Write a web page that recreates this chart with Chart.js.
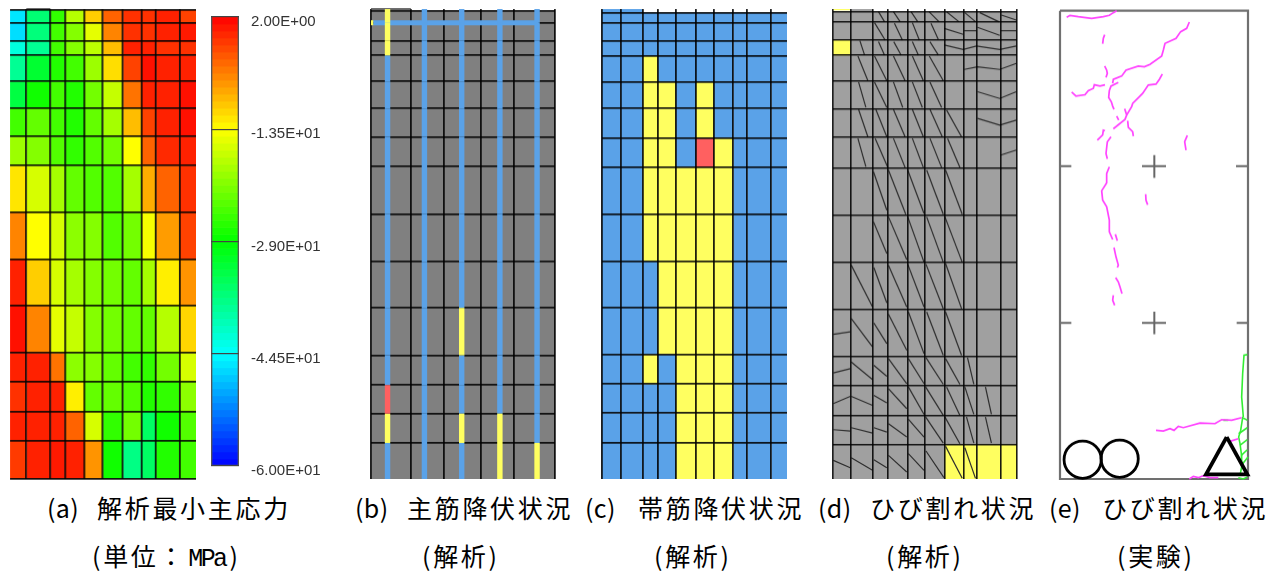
<!DOCTYPE html>
<html lang="ja">
<head>
<meta charset="utf-8">
<title>解析と実験の比較</title>
<script src="https://cdn.jsdelivr.net/npm/chart.js@4/dist/chart.umd.js"></script>
<style>
html,body{margin:0;padding:0;background:#fff;width:1278px;height:571px;overflow:hidden}
canvas{position:absolute;display:block}
.cap{position:absolute;white-space:nowrap;font-family:"Noto Sans CJK JP","Noto Sans",sans-serif;font-size:25px;line-height:30px;letter-spacing:2.7px;color:#000}
.tag{display:inline-block;letter-spacing:0.4px}
.lat{font-family:"Liberation Mono",monospace;letter-spacing:-2.6px;margin-left:2px;margin-right:4px}
</style>
</head>
<body>
<script>
/* ---------- (a) minimum principal stress, MPa ---------- */
const stressXEdges = [0,16.3,40.3,54.7,74.3,92.7,112.7,131.3,145.7,169.3,185.7];
const stressYEdges = [0,12.7,31,45.3,71.3,97.7,126.3,155.3,202.3,249.3,295.3,342.7,371.3,401.3,430.3,468.3];
const minPrincipalStress = [
 [-46,-36,-26,-18,-10.5,-4,-1,-1,0,-2],
 [-46.5,-36.5,-25,-21,-15,-6,-1,-1,0,0.5],
 [-42.5,-38,-25,-21,-17.5,-9.5,0,0,-1,-1],
 [-38,-32,-27,-25,-19.5,-11.5,-2,1,0,0],
 [-33,-28,-25,-27,-22,-17,-5,0,0,1],
 [-25,-23,-25,-27,-23,-19,-9.5,-2,0,1],
 [-19.5,-21,-24,-26,-24,-22,-13.5,-4,-0.5,0],
 [-12,-16,-19,-23,-24,-24,-19,-8.5,-4,-1],
 [-6,-13.5,-16,-20.5,-21,-24,-22,-14,-7.5,-2],
 [0,-10.5,-16,-19,-21,-22,-23,-19,-12.5,-7],
 [1,-6,-15,-17,-21,-22,-23,-23,-18,-11],
 [0,0,-5,-20.5,-21,-23,-25,-26,-22,-16],
 [-1,0,0,-12.5,-23,-23,-24,-27,-26,-20.5],
 [0,0,0,-4,-16,-26,-22,-35,-28,-24],
 [-1.5,0,0.5,0,-7,-28,-37,-35,-27,-25]
];
const colorbarTicks = [2,-13.5,-29,-44.5,-60];
const colorbarLabels = ['2.00E+00','-1.35E+01','-2.90E+01','-4.45E+01','-6.00E+01'];

/* ---------- (b) main-bar yielding ---------- */
const barXEdges = [0,40,73,110.3,143.3,184.6];
const barYEdges = [1,12.7,30.7,45.3,71.3,98.3,126.7,156.3,204,251.7,297.7,345,374.7,403.3,432.7,468.7];
const mainBarX = [16.6,53.6,91,129.3,166.6];
/* per bar, per mesh row: 0 elastic, 1 yielded, 2 failed */
const mainBarStates = [
 [1,1,1,0,0,0,0,0,0,0,0,0,2,1,0],
 [0,0,0,0,0,0,0,0,0,0,0,0,0,0,0],
 [0,0,0,0,0,0,0,0,0,0,1,0,0,1,0],
 [0,0,0,0,0,0,0,0,0,0,0,0,0,1,1],
 [0,0,0,0,0,0,0,0,0,0,0,0,0,0,1]
];
const topBarY = 12.7;
const topBarBreaks = [0,2.2,168];
const topBarStates = [1,0];

/* ---------- (c) stirrup yielding ---------- */
const hoopXEdges = [0,18.6,40.6,56,74,94,112,131.3,145.3,169.3,185];
const hoopYEdges = [2.7,13.3,30.7,46,71.7,98.3,128,157.3,204,251,297.3,344,373.7,403,432.7,468.7];
const hoopStates = [
 [0,0,0,0,0,0,0,0,0,0],
 [0,0,0,0,0,0,0,0,0,0],
 [0,0,0,0,0,0,0,0,0,0],
 [0,0,1,0,0,0,0,0,0,0],
 [0,0,1,1,0,1,0,0,0,0],
 [0,0,1,1,0,1,0,0,0,0],
 [0,0,1,1,0,2,1,0,0,0],
 [0,0,1,1,1,1,1,0,0,0],
 [0,0,1,1,1,1,1,0,0,0],
 [0,0,0,1,1,1,1,0,0,0],
 [0,0,0,1,1,1,1,0,0,0],
 [0,0,1,0,1,1,1,0,0,0],
 [0,0,0,0,1,1,1,0,0,0],
 [0,0,0,0,1,1,1,0,0,0],
 [0,0,0,0,1,1,1,0,0,0]
];

/* ---------- (d) analysed cracks, in mesh drawing units ---------- */
const crackXEdges = [23,77,143,188,247,299,359,417,457,527,577];
const crackYEdges = [35,65,120,166,244,326,412,504,645,786,927,1068,1156,1246,1333,1436];
const crackYellowCells = [[2,0],[14,6],[14,7],[14,8],[14,9]];
const analysedCracks = [
 [160,35,178,65],[205,35,225,65],[258,35,278,65],[312,35,342,65],[365,35,402,65],[420,38,452,65],[465,38,522,65],[530,45,575,60],
 [148,68,180,120],[208,70,232,120],[262,68,283,120],[318,70,340,118],[358,85,415,103],[418,92,455,92],[458,82,525,106],[528,92,575,92],
 [104,122,118,165],[160,125,178,165],[206,125,228,165],[262,125,280,165],[315,125,340,165],[358,135,415,148,455,138,525,148,575,138],
 [98,168,128,242],[148,168,185,242],[205,168,240,242],[262,168,295,242],[313,168,355,242],[418,208,458,200,525,208,575,190],
 [100,246,122,322],[148,246,185,322],[205,246,233,322],[262,246,292,322],[315,246,350,322],[458,275,525,295,575,275],
 [100,328,128,410],[152,328,185,410],[205,328,240,410],[262,328,295,410],[315,328,352,410],[365,330,410,410],[458,355,525,375,575,360],
 [98,415,122,500],[150,415,188,502],[205,415,240,502],[262,415,295,502],[315,415,350,502],[368,415,405,502],[528,465,575,450],
 [145,515,185,630],[190,510,242,642],[248,510,297,640],[305,510,355,642],[362,510,412,642],
 [145,665,185,760],[190,650,245,778],[248,650,297,786],[305,650,355,786],[360,650,412,786],
 [78,795,142,920],[146,802,185,908],[190,795,245,920],[248,792,297,920],[303,792,355,925],[362,790,410,925],
 [24,1002,75,995],[78,955,142,1040],[146,968,185,1030],[190,942,245,1050],[250,935,297,1060],[305,935,355,1065],[362,935,410,1065],
 [24,1118,75,1105],[78,1085,142,1138],[146,1095,185,1128],[190,1075,245,1150],[250,1075,297,1150],[303,1072,355,1152],[362,1075,405,1152],[428,1072,447,1152],
 [24,1210,75,1188],[78,1188,142,1215],[146,1185,185,1208],[190,1165,245,1225],[250,1160,297,1242],[302,1160,355,1245],[365,1160,405,1245],[420,1160,447,1242],[482,1160,500,1242],
 [24,1288,75,1292],[78,1282,142,1298],[146,1282,185,1295],[190,1270,245,1310],[250,1257,297,1310],[302,1250,355,1328],[360,1250,405,1330],[425,1250,447,1328],[482,1250,500,1328],
 [24,1380,75,1402],[78,1372,142,1410],[146,1378,185,1402],[190,1365,245,1415],[250,1360,297,1410],[303,1352,357,1432],[362,1338,412,1434],[420,1342,452,1434]
];

/* ---------- (e) test observation, in sketch drawing units ---------- */
const sketchFrame = [30,32,594,32,594,1436,30,1436,30,32];
const sketchMarks = [
 [30,498,64,498],[558,498,594,498],[276,498,348,498],[313,465,313,533],
 [30,968,64,968],[560,968,594,968],[276,968,348,968],[313,934,313,1002]
];
const observedCracks = [
 [50,52,60,46,85,50,125,55,160,50,178,46,190,38,200,32],
 [158,131,160,115,164,104],
 [418,66,410,85,392,95,378,115,345,130,340,150,335,168,300,193,283,200,265,198,228,210,215,228,190,238,188,250],
 [164,198,170,210,172,220,168,232],
 [65,276,78,288,105,284,115,272,130,265,133,254,150,258,165,254],
 [205,247,183,258,178,272,176,292,184,305,188,318,192,328],
 [337,222,328,238,318,252,295,255,278,280,248,310,245,320,230,345,225,358,190,386],
 [224,326,230,345],[200,348,206,360],
 [233,362,235,382,248,395,250,408],
 [142,420,158,404,160,390,165,392],
 [183,410,172,425,168,460,172,476],
 [178,500,170,520,170,548,155,572,158,600,170,620,178,660,178,695,188,718],
 [196,702,202,722],
 [412,406,404,425,408,450],
 [287,582,288,600,293,614],
 [192,742,198,770,205,795,202,802],
 [197,832,205,845,210,860,216,880],
 [190,885,188,900,194,915],
 [318,1290,340,1292,360,1285,372,1290,385,1278,400,1282,450,1268,495,1270,515,1258,545,1260,575,1252],
 [540,1323,565,1315],
 [418,1436,430,1428,445,1432,460,1426,480,1432,505,1432]
];
const observedShearCracks = [
 [592,1063,582,1065,578,1120,575,1190,580,1250],
 [592,1260,578,1252,572,1290,566,1310,570,1330,574,1360,575,1400,570,1425],
 [566,1300,592,1282],[570,1335,592,1318],[574,1365,592,1348],[578,1390,594,1370],
 [520,1260,535,1260],[565,1432,580,1436,592,1430]
];
const loadingCircles = [[98,1378],[209,1375]];
const loadingTriangle = [530,1310,468,1422,592,1422,530,1310];

const captionsLine1 = [
 {tag:'(a)',x:47,text:'解析最小主応力',tx:97},
 {tag:'(b)',x:355,text:'主筋降伏状況',tx:407},
 {tag:'(c)',x:585,text:'帯筋降伏状況',tx:638},
 {tag:'(d)',x:818,text:'ひび割れ状況',tx:870},
 {tag:'(e)',x:1049,text:'ひび割れ状況',tx:1102}
];
const captionsLine2 = [
 {x:92,parts:['(単位：','MPa',')']},
 {x:422,parts:['(解析)']},
 {x:654,parts:['(解析)']},
 {x:886,parts:['(解析)']},
 {x:1117,parts:['(実験)']}
];

/* ---------- styling ---------- */
const COL_ELASTIC='#5aa2e8', COL_YIELD='#ffff60', COL_FAIL='#ff6060', COL_GRID='rgba(0,0,0,0.88)';
const STATE_COLORS=[COL_ELASTIC,COL_YIELD,COL_FAIL];
const PAD=4;

function rampColor(t){ /* t: 0 red .. 1 yellow .. 2 green .. 3 cyan .. 4 blue */
  const c=v=>Math.round(255*v);
  if(t<1) return `rgb(255,${c(t)},0)`;
  if(t<2) return `rgb(${c(2-t)},255,0)`;
  if(t<3) return `rgb(0,255,${c(t-2)})`;
  return `rgb(0,${c(4-t)},255)`;
}
const stressColor=v=>rampColor((2-v)/62*4);

/* datasets with a lower order are painted later, i.e. on top */
const cell=(x0,x1,y0,y1,color,order)=>({
  data:[{x:x0,y:y0},{x:x1,y:y0}],showLine:true,fill:{value:y1},order:order||0,
  backgroundColor:color,borderWidth:0,borderColor:'transparent',pointRadius:0
});
const pts=f=>{const o=[];for(let i=0;i<f.length;i+=2)o.push({x:f[i],y:f[i+1]});return o;};
const path=(flat,color,w,extra)=>Object.assign({
  data:pts(flat),showLine:true,fill:false,borderColor:color,borderWidth:w,pointRadius:0,tension:0,clip:false
},extra||{});

function place(id,left,top,w,h){
  const c=document.createElement('canvas');
  c.id=id;c.width=w;c.height=h;
  c.style.left=left+'px';c.style.top=top+'px';c.style.width=w+'px';c.style.height=h+'px';
  document.body.appendChild(c);
  return c;
}
function panel(id,box,o){
  const canvas=place(id,box.left-PAD,box.top-PAD,box.w+2*PAD,box.h+2*PAD);
  const axis=(edges,min,max,rev,z)=>({
    type:'linear',min,max,reverse:rev,
    afterBuildTicks:s=>{s.ticks=edges.map(value=>({value}));},
    ticks:{display:false,autoSkip:false},
    border:{display:false},
    grid:{display:!!edges.length,color:COL_GRID,lineWidth:o.lineWidth||1.8,drawTicks:false,z}
  });
  const plugins=o.backdrop?[{id:'backdrop',beforeDraw(ch){
    const a=ch.chartArea,y=ch.scales.y,ctx=ch.ctx;
    ctx.save();ctx.fillStyle=o.backdrop;
    const t=y.getPixelForValue(o.backdropTop);
    ctx.fillRect(a.left,t,a.width,a.bottom-t);ctx.restore();
  }}]:[];
  return new Chart(canvas,{
    type:'scatter',
    data:{datasets:o.datasets},
    plugins,
    options:{
      responsive:false,animation:false,devicePixelRatio:1,
      layout:{padding:PAD,autoPadding:false},
      plugins:{legend:{display:false},tooltip:{enabled:false},title:{display:false}},
      scales:{x:axis(o.xTicks,o.xRange[0],o.xRange[1],false,o.gridZ),
              y:axis(o.yTicks,o.yRange[0],o.yRange[1],true,o.gridZ)}
    }
  });
}

/* (a) */
{
  const ds=[path([16.3,-1,40.3,-1],'#222',1.4)];
  minPrincipalStress.forEach((row,r)=>row.forEach((v,c)=>{
    ds.push(cell(stressXEdges[c],stressXEdges[c+1],stressYEdges[r],stressYEdges[r+1],stressColor(v)));
  }));
  panel('chartA',{left:10,top:9,w:185.7,h:469.5},{
    datasets:ds,gridZ:1,
    xTicks:stressXEdges.slice(1,-1),yTicks:stressYEdges,
    xRange:[0,185.7],yRange:[-1,468.5]
  });
}
/* colour bar */
{
  const canvas=place('chartBar',211.3-PAD,17.3-PAD,128,465);
  const bands=[{data:[[-60,2]],backgroundColor:'transparent',borderColor:'#555',borderWidth:1,barPercentage:1,categoryPercentage:1,grouped:false,order:-1}];
  for(let i=0;i<64;i++){
    const hi=2-62*i/64, lo=2-62*(i+1)/64;
    bands.push({data:[[lo,hi]],backgroundColor:rampColor((i+0.5)/16),borderWidth:0,barPercentage:1,categoryPercentage:1,grouped:false});
  }
  const setTicks=s=>{s.ticks=colorbarTicks.map(value=>({value}));};
  const noPad=s=>{s.paddingTop=0;s.paddingBottom=0;s.paddingLeft=0;s.paddingRight=0;};
  new Chart(canvas,{
    type:'bar',
    data:{labels:['stress'],datasets:bands},
    options:{
      responsive:false,animation:false,devicePixelRatio:1,
      layout:{padding:{left:PAD,top:PAD,bottom:12,right:0},autoPadding:false},
      plugins:{legend:{display:false},tooltip:{enabled:false}},
      scales:{
        x:{display:false,stacked:false},
        y:{position:'left',min:-60,max:2,afterBuildTicks:setTicks,afterFit:s=>{s.width=0;noPad(s);},
           ticks:{display:false,autoSkip:false},
           border:{display:false},
           grid:{color:'#444',lineWidth:1.2,drawTicks:false,z:1}},
        yLabels:{position:'right',min:-59.31,max:2.69,afterBuildTicks:setTicks,afterFit:s=>{s.width=96;noPad(s);},
           grid:{display:false,drawTicks:false},
           border:{display:false},
           ticks:{autoSkip:false,padding:12,align:'center',color:'#333',
                  font:{family:'"Liberation Sans",Arial,sans-serif',size:15},
                  callback:(v,i)=>colorbarLabels[i]}}
      }
    }
  });
}
/* (b) */
{
  const ds=[path([0,-1,40,-1],'#333',1.4,{order:2})];
  mainBarStates.forEach((states,b)=>states.forEach((st,r)=>{
    const y0=r===0?-1:barYEdges[r];
    ds.push(path([mainBarX[b],y0,mainBarX[b],barYEdges[r+1]],STATE_COLORS[st],5.4,{borderCapStyle:'butt',order:st?0:1}));
  }));
  topBarStates.forEach((st,i)=>{
    ds.push(path([topBarBreaks[i],topBarY,topBarBreaks[i+1],topBarY],STATE_COLORS[st],5,{borderCapStyle:'butt',order:st?0:1}));
  });
  panel('chartB',{left:370.7,top:9,w:184.6,h:469.7},{
    datasets:ds,gridZ:0,backdrop:'#808080',backdropTop:1,
    xTicks:barXEdges,yTicks:barYEdges.slice(0,-1),
    xRange:[0,184.6],yRange:[-1,468.7]
  });
}
/* (c) */
{
  const ds=[cell(0,40.6,-1,2.7,COL_ELASTIC)];
  hoopStates.forEach((row,r)=>row.forEach((st,c)=>{
    ds.push(cell(hoopXEdges[c],hoopXEdges[c+1],hoopYEdges[r],hoopYEdges[r+1],STATE_COLORS[st]));
  }));
  panel('chartC',{left:601.7,top:9,w:185,h:469.7},{
    datasets:ds,gridZ:1,
    xTicks:hoopXEdges.slice(0,-1),yTicks:hoopYEdges.slice(0,-1),
    xRange:[0,185],yRange:[-1,468.7]
  });
}
/* (d) */
{
  const ds=[cell(23,577,35,1436,'#a0a0a0',3),cell(77,143,27,35,'#a0a0a0',3),cell(23,75,27,31,COL_YIELD,2)];
  crackYellowCells.forEach(([r,c])=>{
    ds.push(cell(crackXEdges[c],crackXEdges[c+1],crackYEdges[r],crackYEdges[r+1],COL_YIELD,2));
  });
  analysedCracks.forEach(f=>ds.push(path(f,'#2e2e2e',1.2,{order:1})));
  panel('chartD',{left:832.7,top:9,w:184.6,h:469.7},{
    datasets:ds,gridZ:1,lineWidth:1.6,
    xTicks:crackXEdges,yTicks:crackYEdges.slice(0,-1),
    xRange:[23,577],yRange:[27,1436]
  });
}
/* (e) */
{
  const ds=[path(sketchFrame,'#707070',2.2,{borderJoinStyle:'miter',order:4})];
  sketchMarks.forEach(f=>ds.push(path(f,'#666666',2,{order:4})));
  observedShearCracks.forEach(f=>ds.push(path(f,'#33ee33',1.6,{order:3})));
  observedCracks.forEach(f=>ds.push(path(f,'#ff44ff',1.7,{order:2})));
  loadingCircles.forEach(p=>ds.push({
    data:pts(p),showLine:false,pointStyle:'circle',pointRadius:18.6,pointBackgroundColor:'transparent',
    pointBorderColor:'#000',pointBorderWidth:2.8,clip:false,order:1
  }));
  ds.push(path(loadingTriangle,'#000',3.8,{borderJoinStyle:'miter',order:1}));
  panel('chartE',{left:1060,top:9,w:188,h:469.7},{
    datasets:ds,gridZ:0,
    xTicks:[],yTicks:[],
    xRange:[30,594],yRange:[27,1436]
  });
}

/* captions */
captionsLine1.forEach(c=>{
  const a=document.createElement('div');a.className='cap';a.style.left=c.x+'px';a.style.top='492px';
  a.innerHTML='<span class="tag">'+c.tag+'</span>';document.body.appendChild(a);
  const b=document.createElement('div');b.className='cap';b.style.left=c.tx+'px';b.style.top='492px';
  b.textContent=c.text;document.body.appendChild(b);
});
captionsLine2.forEach(c=>{
  const a=document.createElement('div');a.className='cap';a.style.left=c.x+'px';a.style.top='540px';
  c.parts.forEach(p=>{
    const s=document.createElement('span');
    if(p==='MPa')s.className='lat';
    s.textContent=p;a.appendChild(s);
  });
  document.body.appendChild(a);
});
</script>
</body>
</html>
